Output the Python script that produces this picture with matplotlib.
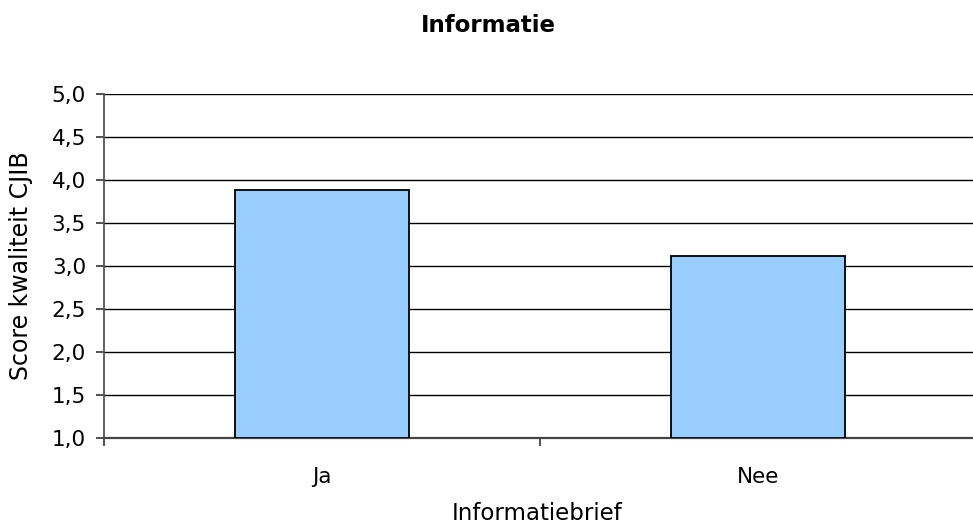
import matplotlib
matplotlib.use("Agg")
import matplotlib.pyplot as plt
from matplotlib.ticker import FixedLocator, FuncFormatter

# data
categories = ["Ja", "Nee"]
scores = [3.88, 3.12]
y_ticks = [1.0, 1.5, 2.0, 2.5, 3.0, 3.5, 4.0, 4.5, 5.0]

plt.rcParams["font.family"] = ["DejaVu Sans"]

W, H = 973, 525
fig = plt.figure(figsize=(W / 100, H / 100), dpi=100)
# plot area runs past the right edge of the image, as in the reference
ax = fig.add_axes([104 / W, (H - 438) / H, 872 / W, 344 / H])

x = list(range(len(categories)))
ax.bar(x, [s - 1.0 for s in scores], bottom=1.0, width=0.4,
       color="#99CCFF", edgecolor="black", linewidth=1.3, zorder=3)

ax.set_xlim(-0.5, len(categories) - 0.5)
ax.set_ylim(1.0, 5.0)
ax.set_yticks(y_ticks)
ax.yaxis.set_major_formatter(FuncFormatter(lambda v, p: f"{v:.1f}".replace(".", ",")))
ax.grid(axis="y", color="black", linewidth=1.0, zorder=0)

# ticks between the categories, labels centred under the bars
ax.xaxis.set_major_locator(FixedLocator([-0.5, 0.5, 1.5]))
ax.xaxis.set_major_formatter(FuncFormatter(lambda v, p: ""))
ax.xaxis.set_minor_locator(FixedLocator(x))
ax.set_xticklabels(categories, minor=True)
ax.tick_params(axis="x", which="major", length=6, color="#333333", width=1.2)
ax.tick_params(axis="x", which="minor", length=0, pad=21, labelsize=15.5)
ax.tick_params(axis="y", length=6, color="#333333", width=1.2, pad=7, labelsize=15.5)

for side in ["top", "right"]:
    ax.spines[side].set_visible(False)
ax.spines["left"].set_color("#555555")
ax.spines["left"].set_linewidth(1.3)
ax.spines["bottom"].set_color("#444444")
ax.spines["bottom"].set_linewidth(1.6)

ax.set_xlabel("Informatiebrief", fontsize=16.5)
ax.set_ylabel("Score kwaliteit CJIB", fontsize=17)
ax.yaxis.set_label_coords(-0.0814, 0.5)
ax.xaxis.set_label_coords(0.497, -0.185)

fig.text(488 / W, 1 - 25 / H, "Informatie", ha="center", va="center",
         fontsize=16.5, fontweight="bold")

fig.savefig("out.png", dpi=100)
